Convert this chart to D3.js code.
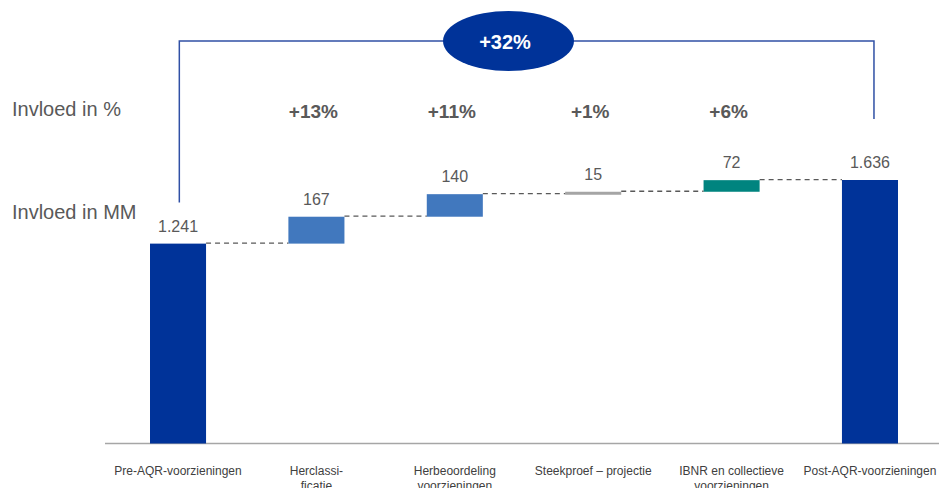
<!DOCTYPE html>
<html>
<head>
<meta charset="utf-8">
<script src="https://cdn.jsdelivr.net/npm/d3@7"></script>
<style>
  html, body { margin: 0; padding: 0; background: #ffffff; }
  svg { display: block; font-family: Arial, "Liberation Sans", Helvetica, sans-serif; }
</style>
</head>
<body>
<svg id="chart" width="939" height="488"></svg>
<script>
// ---- data ----
const categories = ["Pre-AQR-voorzieningen", "Herclassificatie", "Herbeoordeling voorzieningen",
                    "Steekproef – projectie", "IBNR en collectieve voorzieningen", "Post-AQR-voorzieningen"];
const categoryLines = [["Pre-AQR-voorzieningen"], ["Herclassi-", "ficatie"], ["Herbeoordeling", "voorzieningen"],
                       ["Steekproef – projectie"], ["IBNR en collectieve", "voorzieningen"], ["Post-AQR-voorzieningen"]];
const values = [1241, 167, 140, 15, 72, 1636];
const kinds = ["total", "delta", "delta", "delta", "delta", "total"];
const valueLabels = ["1.241", "167", "140", "15", "72", "1.636"];
const pctLabels = ["", "+13%", "+11%", "+1%", "+6%", ""];
const totalPctLabel = "+32%";
const rowLabels = ["Invloed in %", "Invloed in MM"];
const barColors = ["#003399", "#4178be", "#4178be", "#a5a5a5", "#00847f", "#003399"];

// ---- layout ----
const svg = d3.select("#chart");
const baseY = 443.5;
const x = d3.scaleBand().domain(categories).range([150, 898]).paddingInner(0.595).paddingOuter(0);
const y = d3.scaleLinear().domain([0, 1636]).range([baseY, 180]);

// compute waterfall segments
let running = 0;
const segs = values.map((v, i) => {
  let y0, y1;
  if (kinds[i] === "total") { y0 = 0; y1 = v; running = v; }
  else { y0 = running; y1 = running + v; running = y1; }
  return { cat: categories[i], y0, y1, i };
});

// axis line
svg.append("line")
  .attr("x1", 105).attr("x2", 939)
  .attr("y1", baseY).attr("y2", baseY)
  .attr("stroke", "#a6a6a6").attr("stroke-width", 1.3);

// bars
svg.selectAll("rect.bar").data(segs).enter().append("rect")
  .attr("class", "bar")
  .attr("x", d => x(d.cat))
  .attr("width", x.bandwidth())
  .attr("y", d => Math.min(y(d.y1), y(d.y0)))
  .attr("height", d => Math.max(3, Math.abs(y(d.y0) - y(d.y1))))
  .attr("fill", (d, i) => barColors[i]);

// dashed connectors
for (let i = 0; i < segs.length - 1; i++) {
  const lvl = segs[i].y1;
  svg.append("line")
    .attr("x1", x(categories[i]) + x.bandwidth())
    .attr("x2", x(categories[i + 1]))
    .attr("y1", y(lvl) - 0.5).attr("y2", y(lvl) - 0.5)
    .attr("stroke", "#595959").attr("stroke-width", 1.3)
    .attr("stroke-dasharray", "5,4");
}

// value labels
svg.selectAll("text.val").data(segs).enter().append("text")
  .attr("class", "val")
  .attr("x", d => x(d.cat) + x.bandwidth() / 2)
  .attr("y", d => y(d.y1) - 12)
  .attr("text-anchor", "middle")
  .attr("font-size", 16)
  .attr("fill", "#595959")
  .text((d, i) => valueLabels[i]);

// percentage labels
svg.selectAll("text.pct").data(segs.filter((d, i) => pctLabels[i])).enter().append("text")
  .attr("class", "pct")
  .attr("x", d => x(d.cat) + x.bandwidth() / 2 - 3)
  .attr("y", 117.5)
  .attr("text-anchor", "middle")
  .attr("font-size", 19)
  .attr("font-weight", "bold")
  .attr("fill", "#595959")
  .text(d => pctLabels[d.i]);

// row labels
svg.append("text").attr("x", 12).attr("y", 115.5).attr("font-size", 20).attr("fill", "#595959").text(rowLabels[0]);
svg.append("text").attr("x", 12).attr("y", 218.5).attr("font-size", 20).attr("fill", "#595959").text(rowLabels[1]);

// bracket
const bx0 = x(categories[0]) + x.bandwidth() / 2 + 1.3;
const bx1 = x(categories[5]) + x.bandwidth() / 2 + 4;
svg.append("path")
  .attr("d", `M${bx0},202.5 V41 H${bx1} V119`)
  .attr("fill", "none")
  .attr("stroke", "#3050a5")
  .attr("stroke-width", 1.5);

svg.append("ellipse")
  .attr("cx", 508.5).attr("cy", 41)
  .attr("rx", 65.5).attr("ry", 30)
  .attr("fill", "#003399");
svg.append("text")
  .attr("x", 505).attr("y", 48.5)
  .attr("text-anchor", "middle")
  .attr("font-size", 20).attr("font-weight", "bold")
  .attr("fill", "#ffffff")
  .text(totalPctLabel);

// category labels
const catG = svg.selectAll("text.cat").data(categories).enter().append("text")
  .attr("class", "cat")
  .attr("text-anchor", "middle")
  .attr("font-size", 12)
  .attr("fill", "#404040");
catG.each(function(d, i) {
  const t = d3.select(this);
  categoryLines[i].forEach((line, k) => {
    t.append("tspan")
      .attr("x", x(d) + x.bandwidth() / 2)
      .attr("y", 475 + k * 15)
      .text(line);
  });
});
</script>
</body>
</html>
